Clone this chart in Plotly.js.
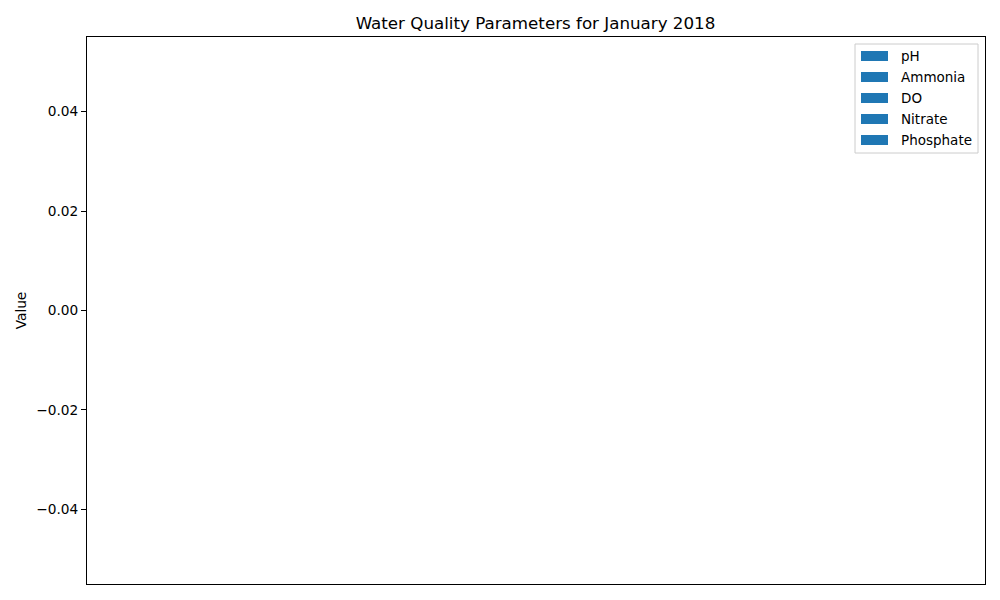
<!DOCTYPE html>
<html>
<head>
<meta charset="utf-8">
<script src="https://cdn.plot.ly/plotly-3.0.1.min.js"></script>
<style>html,body{margin:0;padding:0;background:#fff;}#chart{width:1000px;height:600px;}</style>
</head>
<body>
<div id="chart"></div>
<script>
// Data: the reference chart contains no bars (empty series)
const categories = [];
const pH = [];
const ammonia = [];
const dissolvedOxygen = [];
const nitrate = [];
const phosphate = [];
const seriesNames = ["pH", "Ammonia", "DO", "Nitrate", "Phosphate"];
const yTickVals = [-0.04, -0.02, 0, 0.02, 0.04];
const yTickText = ["\u22120.04", "\u22120.02", "0.00", "0.02", "0.04"];

const seriesValues = [pH, ammonia, dissolvedOxygen, nitrate, phosphate];
const color = "#1f77b4";
const font = "DejaVu Sans, sans-serif";

const W = 1000, H = 600;
const M = {l: 87, r: 15, t: 37, b: 16};
const pw = W - M.l - M.r, ph = H - M.t - M.b;
const px = x => (x - M.l) / pw;
const py = y => (H - M.b - y) / ph;

const traces = seriesNames.map((name, i) => ({
  type: "bar",
  name: name,
  x: categories,
  y: seriesValues[i],
  marker: {color: color},
  showlegend: false
}));

// Matplotlib-style legend drawn with shapes and text (empty traces get no native legend entry)
const shapes = [{
  type: "rect", xref: "paper", yref: "paper",
  x0: px(855), x1: px(978), y0: py(153), y1: py(44),
  line: {color: "#cccccc", width: 1}, fillcolor: "rgba(255,255,255,0.8)", layer: "above"
}];
const annotations = [];
seriesNames.forEach((name, i) => {
  const cy = 56 + i * 21;
  shapes.push({
    type: "rect", xref: "paper", yref: "paper",
    x0: px(861), x1: px(888), y0: py(cy + 5), y1: py(cy - 5),
    line: {width: 0}, fillcolor: color, layer: "above"
  });
  annotations.push({
    xref: "paper", yref: "paper", x: px(899), y: py(cy),
    xanchor: "left", yanchor: "middle", showarrow: false,
    text: name, font: {family: font, size: 13.5, color: "#000"}
  });
});

const layout = {
  width: W,
  height: H,
  margin: M,
  paper_bgcolor: "#ffffff",
  plot_bgcolor: "#ffffff",
  font: {family: font, size: 13.9, color: "#000"},
  title: {text: "Water Quality Parameters for January 2018", font: {family: font, size: 16.7, color: "#000"}, x: 0.5355, xanchor: "center", y: 0.962, yanchor: "middle"},
  barmode: "group",
  showlegend: false,
  xaxis: {
    showticklabels: false, ticks: "", showgrid: false, zeroline: false,
    showline: true, mirror: true, linecolor: "#000", linewidth: 1,
    range: [-0.5, 0.5]
  },
  yaxis: {
    range: [-0.055, 0.055],
    tickvals: yTickVals, ticktext: yTickText,
    ticks: "outside", ticklen: 5, tickcolor: "#000", tickwidth: 1,
    showgrid: false, zeroline: false,
    showline: true, mirror: true, linecolor: "#000", linewidth: 1,
    tickfont: {family: font, size: 13.7, color: "#000"},
    title: {text: "Value", font: {family: font, size: 13.7, color: "#000"}, standoff: 6}
  },
  shapes: shapes,
  annotations: annotations
};

Plotly.newPlot("chart", traces, layout, {displayModeBar: false, staticPlot: true});
</script>
</body>
</html>
